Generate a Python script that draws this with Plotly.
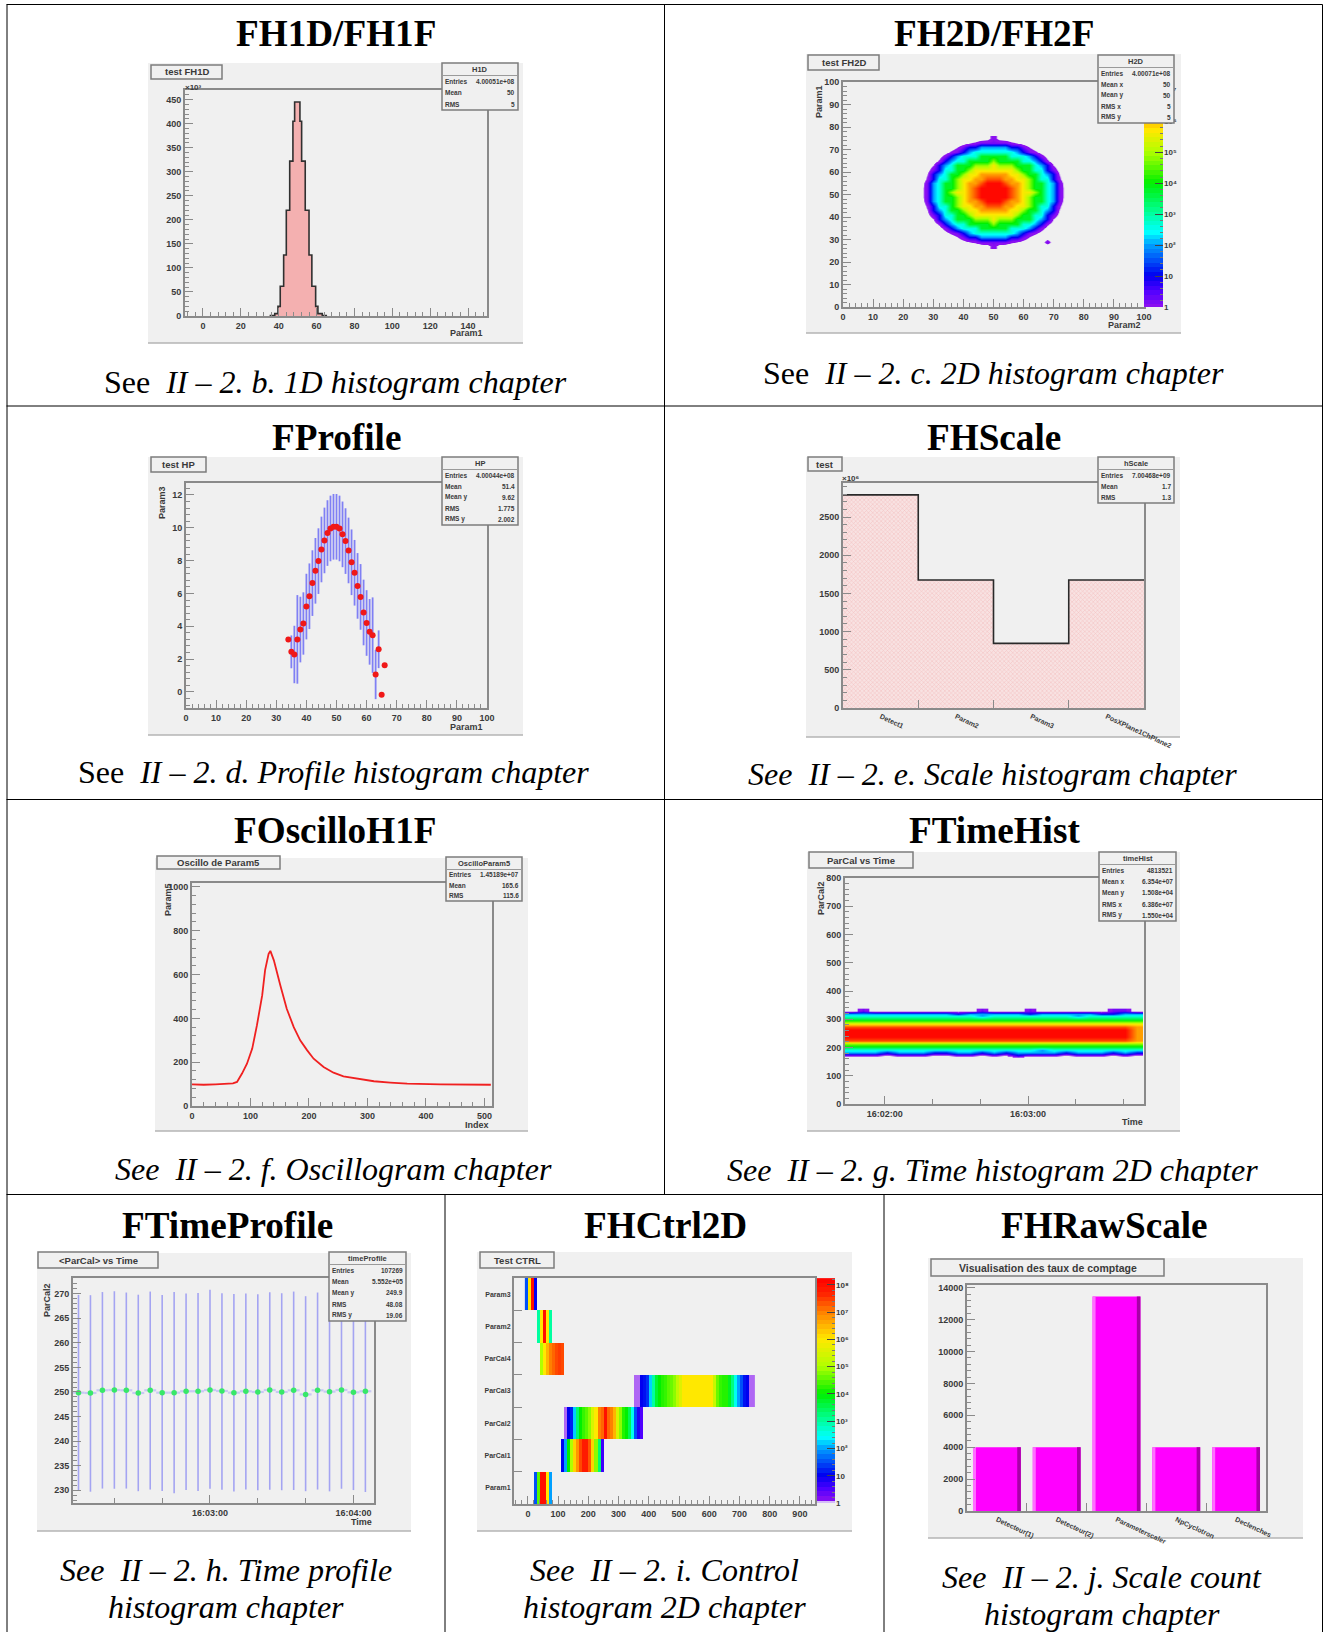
import plotly.graph_objects as go

W, H = 1323, 1632
SANS = "Liberation Sans"
SERIF = "Liberation Serif"
PANEL = "#f0f0f0"
TXT = "#3a3a3a"
AXC = "#8a8a8a"

# ---------- data ----------
fh1_edges = [35.2, 37.9, 39.6, 40.8, 42.6, 44.0, 45.8, 47.5, 48.4, 51.2, 52.1, 54.0, 56.0, 57.5, 59.5, 60.7, 63.0, 65.1]
fh1_vals = [1, 5, 20, 62, 127, 220, 322, 405, 445, 405, 322, 220, 127, 62, 20, 5, 1]

fh2_x = [26, 28, 30, 32, 34, 36, 38, 40, 42, 44, 46, 48, 50, 52, 54, 56, 58, 60, 62, 64, 66, 68, 70, 72, 74]
fh2_y = [75, 73, 71, 69, 67, 65, 63, 61, 59, 57, 55, 53, 51, 49, 47, 45, 43, 41, 39, 37, 35, 33, 31, 29, 27]
fh2_map = [
    "..........abeba..........",
    ".......bcd00000dcb.......",
    ".....ac01122222110ca.....",
    "....bd0123333333210db....",
    "...be123334444433321eb...",
    "..ad12334444544443321da..",
    "..c123444555655544 4321c..".replace(" ", "")[:25],
    ".b013344566666665443310b.",
    ".c12344566777776654 4321c.".replace(" ", "")[:25],
    ".d13345667788877665433 1d.".replace(" ", "")[:25],
    "a02344567789998776544320a",
    "b02344567899999876544320b",
    "b02345667899999876654320b",
    "b02344567899999876544320b",
    "a02344567789998776544320a",
    ".d13345667788877665433 1d.".replace(" ", "")[:25],
    ".c12344566777776654 4321c.".replace(" ", "")[:25],
    ".b013344566666665443310b.",
    "..c123444555655544 4321c..".replace(" ", "")[:25],
    "..ad12334444544443321da..",
    "...be123334444433321eb...",
    "....bd0123333333210db....",
    ".....ac01122222110ca.....",
    ".......bcd00000dcb...0...",
    "..........abeba..........",
]
fh2_levels = {"a": -0.85, "b": -0.7, "c": -0.4, "d": -0.2, "e": 0.0, "0": 0.2, "1": 1.0, "2": 2.0, "3": 2.6, "4": 3.8,
               "5": 4.8, "6": 5.6, "7": 6.2, "8": 6.7, "9": 7.2, ".": -1.0}

prof_x = [34, 35, 36, 37, 38, 39, 40, 41, 42, 43, 44, 45, 46, 47, 48, 49, 50, 51, 52, 53, 54, 55, 56, 57, 58, 59, 60, 61, 62, 63, 64, 65, 66]
prof_y = [3.2, 2.44, 2.28, 3.2, 3.8, 4.17, 5.2, 5.83, 6.63, 7.38, 7.97, 8.68, 9.23, 9.68, 9.96, 10.06, 10.06, 9.96, 9.6, 9.19, 8.62, 7.9, 7.26, 6.46, 5.79, 4.84, 4.2, 3.66, 3.46, 1.06, 2.6, -0.18, 1.63]
prof_err = [0, 1.0, 1.75, 2.7, 2.0, 1.9, 2.0, 2.0, 2.0, 2.0, 2.0, 2.0, 2.0, 2.0, 2.0, 2.0, 2.0, 2.0, 2.0, 2.0, 2.0, 2.0, 2.0, 2.0, 2.0, 2.0, 2.0, 2.0, 2.3, 1.5, 1.15, 0, 0]

scale_labels = ["Detect1", "Param2", "Param3", "PosXPlane1ChPlane2"]
scale_vals = [2790, 1675, 846, 1675]

osc_x = [0, 20, 40, 60, 70, 77, 85.5, 94, 103, 111, 120, 125, 131, 134, 140, 151, 162, 174, 185, 197, 208, 225, 242, 259, 282, 311, 339, 368, 425, 482, 511]
osc_y = [99, 97, 99, 100, 103, 110, 148, 193, 262, 368, 505, 620, 695, 708, 665, 551, 444, 360, 300, 254, 216, 178, 152, 135, 125, 113, 107, 102, 99, 99, 97]

th_y = [169, 181, 192, 203, 214, 226, 238, 250, 262, 273, 285, 299, 311, 321, 332]
th_map = [
    "..............0..........",
    "2221222112212122221222121",
    "3333333333333333233333333",
    "4444444444444444444444444",
    "5555555555555555555555555",
    "8888888888888888888888887",
    "9999999999999999999999997",
    "9999999999999999999999997",
    "9999999999999999999999997",
    "8888888888888888888888887",
    "6666666666666666666666666",
    "4444444444444444444444444",
    "3333333333323333333233333",
    "2222222221222221222221122",
    ".0.........0...0......00.",
]

tp_x = [-55, -50, -45, -40, -35, -30, -25, -20, -15, -10, -5, 0, 5, 10, 15, 20, 25, 30, 35, 40, 45, 50, 55, 60, 65]
tp_y = [249.86, 249.8, 250.34, 250.4, 250.34, 249.8, 250.34, 249.86, 249.86, 250.14, 250.14, 250.4, 250.2, 249.86, 250.14, 250.0, 250.4, 250.0, 250.34, 249.5, 250.34, 250.07, 250.4, 249.93, 250.14]
tp_plus = [19.9, 19.9, 20, 20.1, 19.9, 20, 20.1, 19.9, 20.5, 19.9, 20, 20.4, 19.9, 20.1, 19.9, 19.9, 19.9, 20.1, 20.1, 20, 19.9, 20.3, 19.9, 20.2, 19.9]
tp_minus = [19.9, 20.1, 20, 20.1, 20, 20, 20.2, 20, 20.5, 20.1, 20.3, 20.1, 20.1, 20.1, 20, 20, 20.3, 20, 20.3, 19.7, 20.2, 20.3, 20.1, 19.9, 20.5]

ctrl_labels = ["Param1", "ParCal1", "ParCal2", "ParCal3", "ParCal4", "Param2", "Param3"]
ctrl_starts = [20, 110, 120, 350, 40, 30, -10]
ctrl_rows = [
    [1.5, 4.5, 8, 8, 6, 2],
    [1, 2, 4, 5, 6.2, 6.8, 7.4, 7.8, 7.8, 7.3, 6.2, 4.8, 3.3, 0.6],
    [0.05, 1, 1.2, 2.2, 3.3, 4, 4.3, 4.5, 4.8, 5.5, 6, 7, 7.2, 8, 7.2, 7, 6.5, 5.5, 4.8, 4.2, 4, 3.5, 2.5, 1.5, 0.8, 0.5],
    [0.05, 0.05, 1, 1.1, 1.3, 2.2, 3, 3.7, 4, 4.2, 4.3, 4.5, 4.6, 4.8, 5.2, 5.6, 6, 6, 6, 6, 6, 6, 6, 6, 6, 6, 5.3, 4.6, 4.3, 4.2, 4.2, 3.8, 3.2, 2.5, 2, 1.5, 1.1, 1, 0.05, 0.05],
    [5, 6, 6.5, 7, 7.2, 7.4, 7.5, 7.4],
    [3, 6, 8, 6, 3],
    [1.5, 6, 8, 1],
]

raw_labels = ["Detecteur(1)", "Detecteur(2)", "Parameterscaler", "NpCyclotron", "Declenches"]
raw_vals = [4000, 4000, 13450, 4000, 4000]

decade_labels = ["1", "10", "10²", "10³", "10⁴", "10⁵", "10⁶", "10⁷", "10⁸"]
band_steps_p2 = [0.0, 0.15, 0.3, 0.45, 0.6, 0.75, 0.9, 1.05, 1.2, 1.35, 1.5, 1.65, 1.8, 1.95, 2.1, 2.25, 2.4, 2.55, 2.7, 2.85, 3.0, 3.15, 3.3, 3.45, 3.6, 3.75, 3.9, 4.05, 4.2, 4.35, 4.5, 4.65, 4.8, 4.95, 5.1, 5.25, 5.4, 5.55, 5.7, 5.85, 6.0, 6.15, 6.3, 6.45, 6.6, 6.75, 6.9, 7.05, 7.2]
band_steps_p8 = [0.0, 0.17, 0.34, 0.51, 0.68, 0.85, 1.02, 1.19, 1.36, 1.53, 1.7, 1.87, 2.04, 2.21, 2.38, 2.55, 2.72, 2.89, 3.06, 3.23, 3.4, 3.57, 3.74, 3.91, 4.08, 4.25, 4.42, 4.59, 4.76, 4.93, 5.1, 5.27, 5.44, 5.61, 5.78, 5.95, 6.12, 6.29, 6.46, 6.63, 6.8, 6.97, 7.14, 7.31, 7.48, 7.65, 7.82, 7.99, 8.16]

# ---------- helpers ----------
def X(p): return p / W
def Y(p): return 1 - p / H

fig = go.Figure()
shapes, annos = [], []

def rect(x0, y0, x1, y1, fill=None, line=None, lw=1, layer="below"):
    shapes.append(dict(type="rect", xref="paper", yref="paper", x0=X(x0), x1=X(x1), y0=Y(y0), y1=Y(y1),
                       fillcolor=fill or "rgba(0,0,0,0)", line=dict(color=line or "rgba(0,0,0,0)", width=lw if line else 0),
                       layer=layer))

def hline(x0, x1, y, color="#000", lw=1, layer="below"):
    shapes.append(dict(type="line", xref="paper", yref="paper", x0=X(x0), x1=X(x1), y0=Y(y), y1=Y(y),
                       line=dict(color=color, width=lw), layer=layer))

def vline(x, y0, y1, color="#000", lw=1, layer="below"):
    shapes.append(dict(type="line", xref="paper", yref="paper", x0=X(x), x1=X(x), y0=Y(y0), y1=Y(y1),
                       line=dict(color=color, width=lw), layer=layer))

def text(x, y, s, size=8, color=TXT, family=SANS, anchor="center", angle=0, bold=False):
    annos.append(dict(xref="paper", yref="paper", x=X(x), y=Y(y), text=("<b>%s</b>" % s) if bold else s,
                      showarrow=False, xanchor=anchor, yanchor="middle", textangle=angle,
                      font=dict(family=family, size=size, color=color), borderpad=0, borderwidth=0))

def panel(x0, y0, x1, y1):
    rect(x0, y0, x1, y1, fill=PANEL)
    hline(x0, x1, y1, color="#b4b4b4", lw=1.5)

def titlebox(x0, y0, x1, y1, s, size=9.5):
    rect(x0, y0, x1, y1, fill=PANEL, line="#7c7c7c", lw=1.5, layer="above")
    text((x0 + x1) / 2, (y0 + y1) / 2, s, size=size, bold=True)

def stats(x0, y0, x1, y1, name, rows):
    rect(x0, y0, x1, y1, fill=PANEL, line="#7c7c7c", lw=1.5, layer="above")
    th = 12.5
    hline(x0, x1, y0 + th, color="#9a9a9a", lw=1, layer="above")
    text((x0 + x1) / 2, y0 + th / 2, name, size=7.5, bold=True)
    rh = (y1 - y0 - th) / len(rows)
    for i, (a, b) in enumerate(rows):
        ym = y0 + th + rh * (i + 0.5)
        text(x0 + 3, ym, a, size=6.5, anchor="left", bold=True)
        text(x1 - 3, ym, b, size=6.5, anchor="right", bold=True)

def axes(i, frame, xr, yr, xa=None, ya=None):
    xname = "xaxis" if i == 1 else "xaxis%d" % i
    yname = "yaxis" if i == 1 else "yaxis%d" % i
    base = dict(showline=True, mirror=True, linecolor=AXC, linewidth=2, showgrid=False, zeroline=False,
                automargin=False,
                ticks="inside", ticklen=8, tickwidth=1, tickcolor=AXC, tickformat="d",
                tickfont=dict(family=SANS, size=9, color=TXT, weight="bold"))
    xd = dict(base, domain=[X(frame[0]), X(frame[2])], range=xr, anchor="y%d" % i if i > 1 else "y")
    yd = dict(base, domain=[Y(frame[3]), Y(frame[1])], range=yr, anchor="x%d" % i if i > 1 else "x")
    xd.update(xa or {})
    yd.update(ya or {})
    fig.layout[xname] = xd
    fig.layout[yname] = yd
    return ("x" if i == 1 else "x%d" % i), ("y" if i == 1 else "y%d" % i)

def minor(step, ln=4):
    return dict(ticks="inside", ticklen=ln, dtick=step, tickcolor=AXC, tickwidth=1, showgrid=False)

stops_p2 = [(0, "#8a10f0"), (0.5, "#5000ff"), (1, "#0000f0"), (2, "#00a0ff"), (2.4, "#00ffff"), (3, "#00ffa0"),
            (4, "#00f000"), (5, "#b0ff00"), (5.7, "#ffe800"), (6.3, "#ff9000"), (7.0, "#ff2000"), (7.27, "#ff0000")]
stops_p8 = [(0, "#d4bcf8"), (0.1, "#8a10f0"), (0.5, "#5000ff"), (1, "#0000f0"), (2, "#00a0ff"), (2.4, "#00ffff"), (3, "#00ffa0"),
            (4, "#00f000"), (5, "#b0ff00"), (6, "#ffe800"), (7, "#ff8000"), (7.7, "#ff2000"), (8.25, "#ff0000")]
EMPTY = -1.0

def scale(stops, lo, hi):
    out = []
    if lo < 0:
        out.append([0, "rgba(138,16,240,0)"])
        out.append([(-0.45 - lo) / (hi - lo), "rgba(138,16,240,0)"])
        out.append([(-0.3 - lo) / (hi - lo), stops[0][1]])
    for v, c in stops:
        out.append([(v - lo) / (hi - lo), c])
    return out

def lvl(rows, levels):
    return [[levels[c] for c in r] for r in rows]

def color_axes(i, frame, top, steps, stops, ticks):
    xa, ya = axes(i, frame, [0, 1], [0, top],
                  dict(showticklabels=False, ticks="", showline=False),
                  dict(side="right", tickvals=list(range(ticks)), ticktext=decade_labels[:ticks], showline=False,
                       tickcolor="#444", ticks="inside", ticklen=8,
                       tickfont=dict(family=SANS, size=8, color=TXT, weight="bold"),
                       minor=dict(ticks="inside", ticklen=3, dtick=0.2, tickcolor="#777")))
    fig.add_trace(go.Heatmap(x=[0.5], y=steps, z=[[v] for v in steps], zmin=0, zmax=top,
                             colorscale=scale(stops, 0, top), showscale=False, xaxis=xa, yaxis=ya))

RED_FILL = "#f4b0b0"

# ---------- table ----------
TL = "#000000"
hline(6.5, 1322.5, 4.5, TL); hline(6.5, 1322.5, 406, TL); hline(6.5, 1322.5, 799.5, TL); hline(6.5, 1322.5, 1194.5, TL)
vline(7, 4.5, 1632, TL); vline(1322.5, 4.5, 1632, TL)
vline(664.5, 4.5, 1194.5, TL); vline(445, 1194.5, 1632, TL); vline(884, 1194.5, 1632, TL)

def title(x, y, s): text(x, y, s, size=37.2, color="#000", family=SERIF, bold=True)
def cap(x, y, s): text(x, y, s, size=32, color="#000", family=SERIF)

title(336, 33, "FH1D/FH1F"); title(994, 33, "FH2D/FH2F")
title(336, 437, "FProfile"); title(994, 437, "FHScale")
title(335, 830, "FOscilloH1F"); title(994, 830, "FTimeHist")
title(227, 1225, "FTimeProfile"); title(665, 1225, "FHCtrl2D"); title(1104, 1225, "FHRawScale")
cap(335, 382, "See&#160; <i>II – 2. b. 1D histogram chapter</i>")
cap(993, 373, "See&#160; <i>II – 2. c. 2D histogram chapter</i>")
cap(334, 772, "See&#160; <i>II – 2. d. Profile histogram chapter</i>")
cap(992, 774, "<i>See&#160; II – 2. e. Scale histogram chapter</i>")
cap(334, 1169, "<i>See&#160; II – 2. f. Oscillogram chapter</i>")
cap(992, 1170, "<i>See&#160; II – 2. g. Time histogram 2D chapter</i>")
cap(226, 1570, "<i>See&#160; II – 2. h. Time profile</i>"); cap(226, 1607, "<i>histogram chapter</i>")
cap(664, 1570, "<i>See&#160; II – 2. i. Control</i>"); cap(664, 1607, "<i>histogram 2D chapter</i>")
cap(1102, 1577, "<i>See&#160; II – 2. j. Scale count</i>"); cap(1102, 1614, "<i>histogram chapter</i>")

# ---------- panel 1 ----------
panel(148, 63, 523, 343)
xa, ya = axes(1, (185, 90, 487, 316), [-9.5, 150], [0, 470],
              dict(tickvals=[0, 20, 40, 60, 80, 100, 120, 140], minor=minor(4)),
              dict(tickvals=list(range(0, 451, 50)), minor=minor(10)))
fig.add_trace(go.Scatter(x=fh1_edges, y=fh1_vals + [0], mode="lines", line=dict(shape="hv", color="#303030", width=1.6),
                         fill="tozeroy", fillcolor=RED_FILL, xaxis=xa, yaxis=ya, showlegend=False))
titlebox(151, 65, 222, 79, "test FH1D")
stats(442, 63, 518, 110, "H1D", [("Entries", "4.00051e+08"), ("Mean", "50"), ("RMS", "5")])
text(467, 333, "Param1", bold=True, size=9); text(193, 87, "×10³", size=8, bold=True)

# ---------- panel 2 ----------
panel(806, 54, 1181, 333)
xa, ya = axes(2, (843, 82, 1144, 307), [0, 100], [0, 100],
              dict(dtick=10, minor=minor(2)), dict(dtick=10, minor=minor(2)))
fig.add_trace(go.Heatmap(x=fh2_x, y=fh2_y, z=lvl(fh2_map, fh2_levels), zsmooth="best", zmin=EMPTY, zmax=7.27,
                         colorscale=scale(stops_p2, EMPTY, 7.27), showscale=False, xaxis=xa, yaxis=ya))
color_axes(10, (1144, 82, 1163, 307), 7.27, band_steps_p2, stops_p2, 8)
titlebox(808, 55, 879, 70, "test FH2D")
stats(1098, 55, 1174, 123, "H2D", [("Entries", "4.00071e+08"), ("Mean x", "50"), ("Mean y", "50"), ("RMS x", "5"), ("RMS y", "5")])
text(1124, 325, "Param2", bold=True, size=9); text(819, 102, "Param1", bold=True, size=9, angle=-90)

# ---------- panel 3 ----------
panel(148, 457, 523, 735)
xa, ya = axes(3, (186, 483, 487, 708), [0, 100], [-0.98, 12.73],
              dict(dtick=10, minor=minor(2)), dict(tickvals=[0, 2, 4, 6, 8, 10, 12], minor=minor(0.4)))
fig.add_trace(go.Scatter(x=prof_x, y=prof_y, mode="markers", marker=dict(color="#f01818", size=6),
                         error_y=dict(type="data", array=prof_err, color="#8080f4", thickness=1.8, width=0),
                         xaxis=xa, yaxis=ya, showlegend=False))
titlebox(151, 457, 206, 472, "test HP")
stats(442, 457, 518, 525, "HP", [("Entries", "4.00044e+08"), ("Mean", "51.4"), ("Mean y", "9.62"), ("RMS", "1.775"), ("RMS y", "2.002")])
text(467, 727, "Param1", bold=True, size=9); text(162, 503, "Param3", bold=True, size=9, angle=-90)

# ---------- panel 4 ----------
panel(806, 457, 1180, 737)
xa, ya = axes(4, (843, 483, 1144, 708), [0, 4], [0, 2945],
              dict(tickvals=[0.5, 1.5, 2.5, 3.5], ticktext=scale_labels, tickangle=25, ticks="", ticklen=0,
                   tickfont=dict(family=SANS, size=7, color=TXT, weight="bold"),
                   minor=dict(tickvals=[1, 2, 3], ticks="inside", ticklen=8, tickcolor=AXC)),
              dict(tickvals=[0, 500, 1000, 1500, 2000, 2500], minor=minor(100)))
fig.add_trace(go.Scatter(x=[0, 1, 2, 3, 4], y=scale_vals + [1675], mode="lines", line=dict(shape="hv", color="#2a2a2a", width=1.6),
                         fill="tozeroy", fillcolor="#f7dcdc",
                         fillpattern=dict(shape="x", fgcolor="#f3bcbc", bgcolor="#f8e2e2", size=3, solidity=0.3),
                         xaxis=xa, yaxis=ya, showlegend=False))
titlebox(808, 457, 842, 471, "test")
stats(1098, 457, 1174, 503, "hScale", [("Entries", "7.00468e+09"), ("Mean", "1.7"), ("RMS", "1.3")])
text(851, 479, "×10⁶", size=8, bold=True)

# ---------- panel 5 ----------
panel(155, 858, 528, 1131)
xa, ya = axes(5, (192, 883, 492, 1106), [0, 513], [0, 1018],
              dict(dtick=100, minor=minor(20)), dict(dtick=200, minor=minor(40)))
fig.add_trace(go.Scatter(x=osc_x, y=osc_y, mode="lines", line=dict(color="#f02020", width=1.8),
                         xaxis=xa, yaxis=ya, showlegend=False))
titlebox(157, 856, 280, 869, "Oscillo de Param5")
stats(446, 857, 522, 901, "OscilloParam5", [("Entries", "1.45189e+07"), ("Mean", "165.6"), ("RMS", "115.6")])
text(477, 1125, "Index", bold=True, size=9); text(168, 900, "Param5", bold=True, size=9, angle=-90)

# ---------- panel 6 ----------
panel(807, 852, 1180, 1131)
xa, ya = axes(6, (845, 878, 1144, 1104), [-16.7, 108.6], [0, 800],
              dict(tickvals=[0, 60], ticktext=["16:02:00", "16:03:00"],
                   minor=dict(tickvals=[20, 40, 80, 100], ticks="inside", ticklen=5, tickcolor=AXC)),
              dict(dtick=100, minor=minor(20)))
fig.add_trace(go.Heatmap(x0=-14.2, dx=5, y=th_y, z=lvl(th_map, fh2_levels), zsmooth="best", zmin=EMPTY, zmax=7.27,
                         colorscale=scale(stops_p2, EMPTY, 7.27), showscale=False, xaxis=xa, yaxis=ya))
titlebox(809, 852, 913, 868, "ParCal vs Time")
stats(1099, 852, 1176, 921, "timeHist", [("Entries", "4813521"), ("Mean x", "6.354e+07"), ("Mean y", "1.508e+04"), ("RMS x", "6.386e+07"), ("RMS y", "1.550e+04")])
text(1132, 1122, "Time", bold=True, size=9); text(821, 898, "ParCal2", bold=True, size=9, angle=-90)

# ---------- panel 7 ----------
panel(37, 1253, 411, 1531)
xa, ya = axes(7, (73, 1278, 374, 1503), [-57.3, 68.6], [227.4, 273.2],
              dict(tickvals=[0, 60], ticktext=["16:03:00", "16:04:00"],
                   minor=dict(tickvals=[-40, -20, 20, 40], ticks="inside", ticklen=5, tickcolor=AXC)),
              dict(tickvals=[230, 235, 240, 245, 250, 255, 260, 265, 270], minor=minor(1)))
fig.add_trace(go.Scatter(x=tp_x, y=tp_y, mode="markers", marker=dict(color="#38e868", size=5.5),
                         error_y=dict(type="data", symmetric=False, array=tp_plus, arrayminus=tp_minus,
                                      color="#a4a4f2", thickness=1.6, width=0),
                         error_x=dict(type="constant", value=2.5, color="#c8c8f4", thickness=2.2, width=0),
                         xaxis=xa, yaxis=ya, showlegend=False))
titlebox(38, 1252, 158, 1268, "&lt;ParCal&gt; vs Time")
stats(329, 1252, 406, 1321, "timeProfile", [("Entries", "107269"), ("Mean", "5.552e+05"), ("Mean y", "249.9"), ("RMS", "48.08"), ("RMS y", "19.06")])
text(362, 1522, "Time", bold=True, size=9); text(47, 1300, "ParCal2", bold=True, size=9, angle=-90)

# ---------- panel 8 ----------
panel(477, 1252, 852, 1531)
xa, ya = axes(8, (514, 1278, 815, 1504), [-46, 950], [-0.5, 6.5],
              dict(tickvals=list(range(0, 901, 100)), minor=minor(20)),
              dict(tickvals=list(range(7)), ticktext=ctrl_labels, ticks="", ticklen=0,
                   tickfont=dict(family=SANS, size=7, color=TXT, weight="bold"),
                   minor=dict(tickvals=[0.5, 1.5, 2.5, 3.5, 4.5, 5.5], ticks="inside", ticklen=8, tickcolor=AXC)))
ctrl_x = list(range(-5, 746, 10))
ctrl_z = []
for st, vals in zip(ctrl_starts, ctrl_rows):
    row = [None] * len(ctrl_x)
    first = (st + 10) // 10
    for k, v in enumerate(vals):
        row[first + k] = v
    ctrl_z.append(row)
fig.add_trace(go.Heatmap(x=ctrl_x, y=list(range(7)), z=ctrl_z, zmin=0, zmax=8.25, colorscale=scale(stops_p8, 0, 8.25),
                         xaxis=xa, yaxis=ya, hoverongaps=False, showscale=False))
color_axes(11, (817, 1278, 835, 1503), 8.25, band_steps_p8, stops_p8, 9)
titlebox(480, 1252, 554, 1268, "Test CTRL")

# ---------- panel 9 ----------
panel(928, 1258, 1303, 1538)
xa, ya = axes(9, (967, 1285, 1266, 1511), [-0.5, 4.5], [0, 14170],
              dict(tickvals=[0, 1, 2, 3, 4], ticktext=raw_labels, tickangle=25, ticks="", ticklen=0,
                   tickfont=dict(family=SANS, size=7, color=TXT, weight="bold"),
                   minor=dict(tickvals=[0.5, 1.5, 2.5, 3.5], ticks="inside", ticklen=8, tickcolor=AXC)),
              dict(tickvals=list(range(0, 14001, 2000)), minor=minor(400)))
bar_x = [0, 1, 2, 3, 4]
fig.add_trace(go.Bar(x=bar_x, y=raw_vals, width=0.8, marker=dict(color="#ff00ff", line=dict(width=0)), xaxis=xa, yaxis=ya, showlegend=False))
fig.add_trace(go.Bar(x=bar_x, y=raw_vals, width=0.06, offset=0.34, marker=dict(color="#a800a8", line=dict(width=0)), xaxis=xa, yaxis=ya, showlegend=False))
fig.add_trace(go.Bar(x=bar_x, y=raw_vals, width=0.05, offset=-0.4, marker=dict(color="#ff70ff", line=dict(width=0)), xaxis=xa, yaxis=ya, showlegend=False))
titlebox(931, 1259, 1164, 1276, "Visualisation des taux de comptage", size=10.5)

fig.update_layout(template="none", width=W, height=H, margin=dict(l=0, r=0, t=0, b=0, pad=0), autosize=False,
                  paper_bgcolor="white", plot_bgcolor=PANEL, barmode="overlay", showlegend=False,
                  shapes=shapes, annotations=annos, font=dict(family=SANS))
fig.write_html("out.html", config={"displayModeBar": False},
               post_script="document.body.style.margin='0';document.documentElement.style.overflow='hidden';")
